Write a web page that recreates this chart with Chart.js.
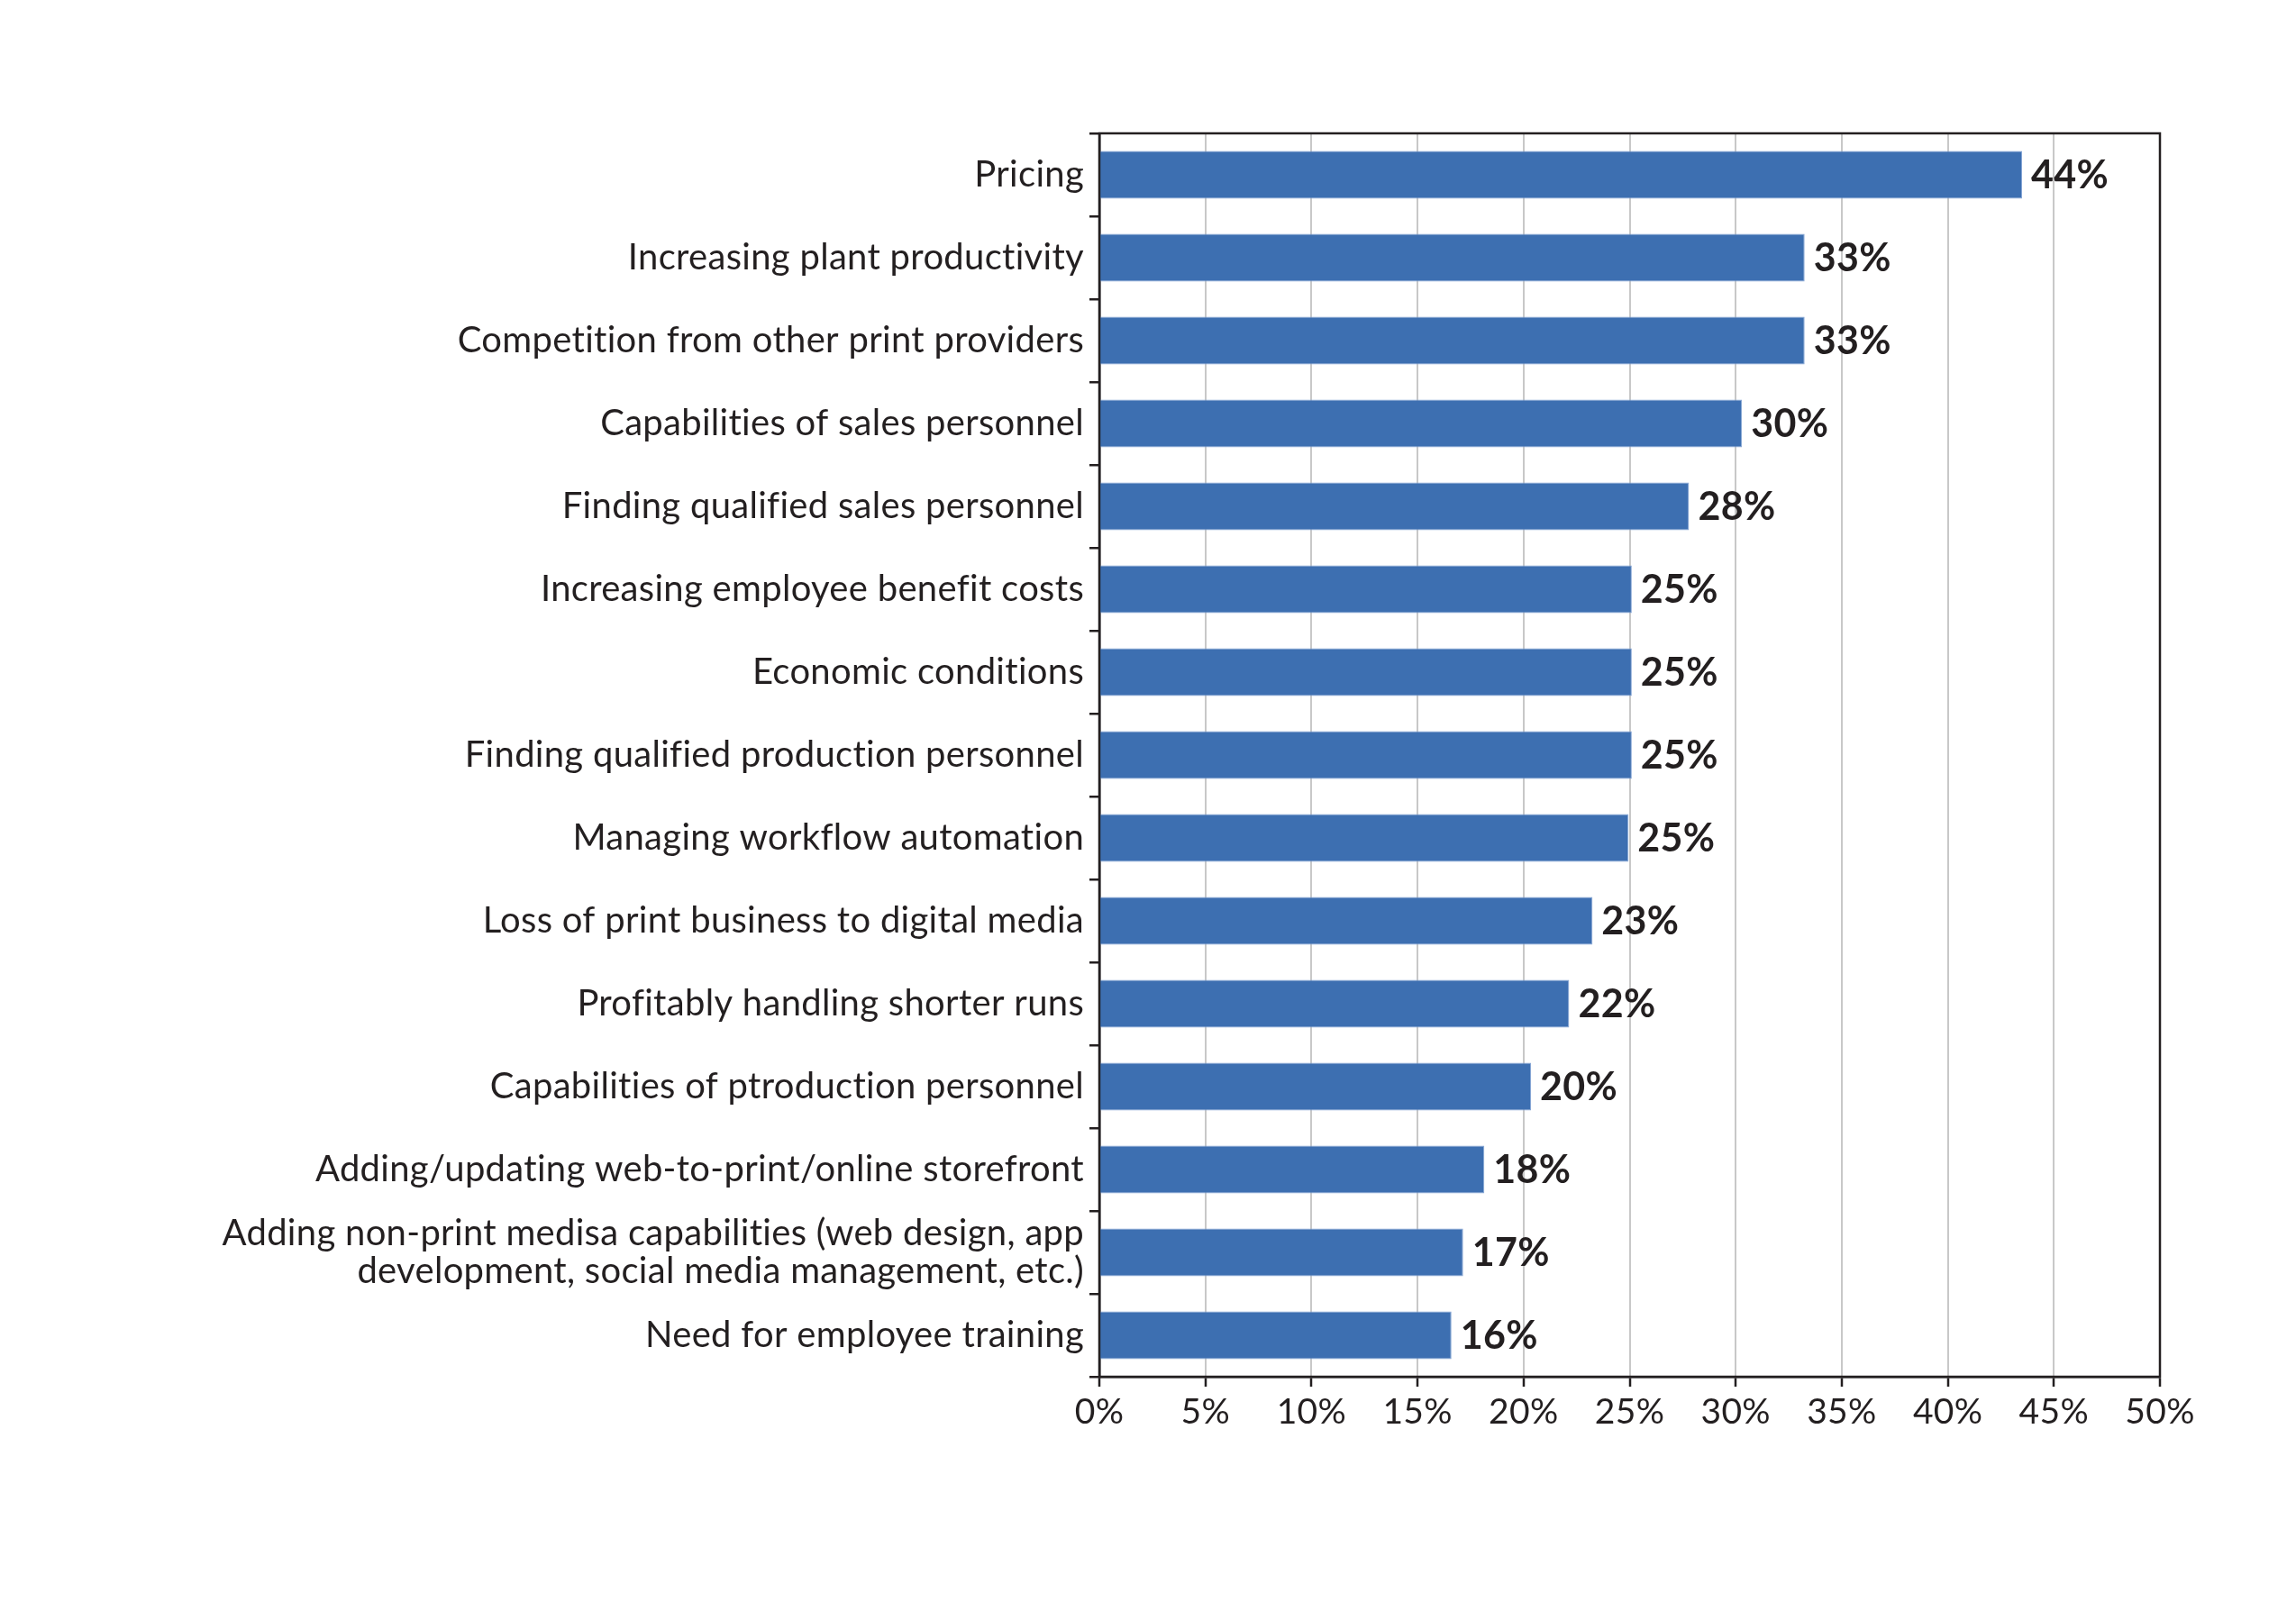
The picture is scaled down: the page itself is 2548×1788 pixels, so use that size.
<!DOCTYPE html>
<html>
<head>
<meta charset="utf-8">
<script src="https://cdn.jsdelivr.net/npm/chart.js@4.4.1/dist/chart.umd.min.js"></script>
<style>
  html, body { margin: 0; padding: 0; background: #ffffff; }
  #wrap { width: 2548px; height: 1788px; }
</style>
</head>
<body>
<div id="wrap"><canvas id="chart" width="2548" height="1788"></canvas></div>
<script>
var categories = [
  "Pricing",
  "Increasing plant productivity",
  "Competition from other print providers",
  "Capabilities of sales personnel",
  "Finding qualified sales personnel",
  "Increasing employee benefit costs",
  "Economic conditions",
  "Finding qualified production personnel",
  "Managing workflow automation",
  "Loss of print business to digital media",
  "Profitably handling shorter runs",
  "Capabilities of ptroduction personnel",
  "Adding/updating web-to-print/online storefront",
  ["Adding non-print medisa capabilities (web design, app", "development, social media management, etc.)"],
  "Need for employee training"
];
var barValues = [43.5, 33.25, 33.25, 30.3, 27.8, 25.1, 25.1, 25.1, 24.95, 23.25, 22.15, 20.35, 18.15, 17.15, 16.6];
var valueLabels = ["44%", "33%", "33%", "30%", "28%", "25%", "25%", "25%", "25%", "23%", "22%", "20%", "18%", "17%", "16%"];
var xTickLabels = ["0%", "5%", "10%", "15%", "20%", "25%", "30%", "35%", "40%", "45%", "50%"];

var textColor = "#231f20";
var fontFamily = "Lato, 'Open Sans', sans-serif";

// small tracking keeps Lato from using its "ti" ligature
var trackingPlugin = {
  id: "tracking",
  beforeDraw: function (chart) {
    chart.ctx.letterSpacing = "0.3px";
  }
};

// draws the percentage next to each bar end
var valueLabelPlugin = {
  id: "valueLabels",
  afterDatasetsDraw: function (chart) {
    var ctx = chart.ctx;
    var meta = chart.getDatasetMeta(0);
    ctx.save();
    ctx.font = "bold 43px " + fontFamily;
    ctx.fillStyle = textColor;
    ctx.textAlign = "left";
    ctx.textBaseline = "middle";
    meta.data.forEach(function (bar, i) {
      ctx.fillText(valueLabels[i], bar.x + 10, bar.y + 1);
    });
    ctx.restore();
  }
};

// closes the plot box on top and right
var framePlugin = {
  id: "frame",
  afterDatasetsDraw: function (chart) {
    var a = chart.chartArea;
    var ctx = chart.ctx;
    ctx.save();
    ctx.strokeStyle = "#231f20";
    ctx.lineWidth = 2.5;
    ctx.strokeRect(a.left, a.top, a.right - a.left, a.bottom - a.top);
    ctx.restore();
  }
};

new Chart(document.getElementById("chart"), {
  type: "bar",
  data: {
    labels: categories,
    datasets: [
      {
        data: barValues,
        backgroundColor: "#3d6fb1",
        borderColor: "#86a6d6",
        borderWidth: 1,
        barPercentage: 0.575,
        categoryPercentage: 1.0
      }
    ]
  },
  options: {
    indexAxis: "y",
    responsive: false,
    devicePixelRatio: 1,
    animation: false,
    layout: { padding: { left: 0, right: 151, top: 148, bottom: 0 } },
    plugins: {
      legend: { display: false },
      tooltip: { enabled: false }
    },
    scales: {
      x: {
        min: 0,
        max: 50,
        ticks: {
          stepSize: 5,
          color: textColor,
          padding: 5,
          font: { family: fontFamily, size: 39 },
          callback: function (v, i) { return xTickLabels[i]; }
        },
        grid: {
          color: "#c8c8c8",
          lineWidth: 2,
          tickColor: "#231f20",
          tickWidth: 2.5,
          tickLength: 11
        },
        border: { color: "#231f20", width: 2.5 },
        afterFit: function (scale) { scale.height = 1788 - 1528; }
      },
      y: {
        ticks: {
          color: textColor,
          padding: 6,
          font: { family: fontFamily, size: 40, lineHeight: 1.05 }
        },
        grid: {
          offset: true,
          drawOnChartArea: false,
          color: "#231f20",
          lineWidth: 2.5,
          tickLength: 11
        },
        border: { color: "#231f20", width: 2.5 },
        afterFit: function (scale) { scale.width = 1220; }
      }
    }
  },
  plugins: [trackingPlugin, valueLabelPlugin, framePlugin]
});
</script>
</body>
</html>
